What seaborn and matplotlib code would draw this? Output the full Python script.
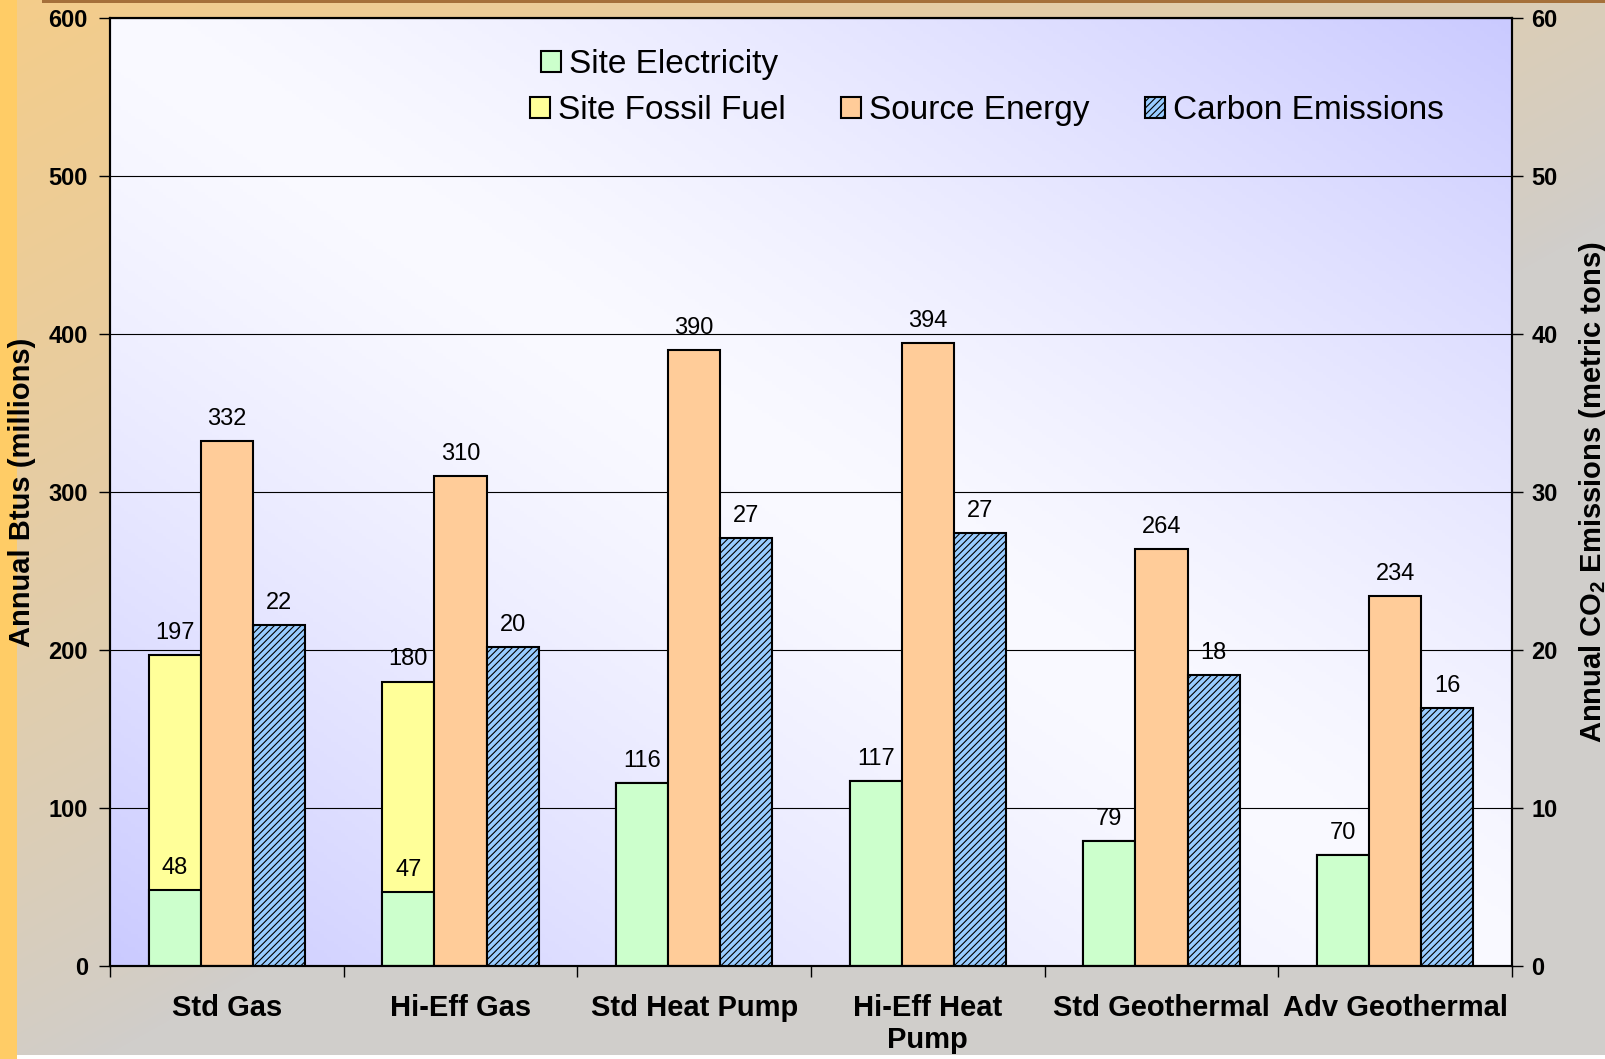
import numpy as np
import pandas as pd
import matplotlib
matplotlib.use("Agg")
import matplotlib.pyplot as plt
import seaborn as sns
from matplotlib.patches import Patch
from matplotlib.ticker import FixedLocator

# data
categories = ["Std Gas", "Hi-Eff Gas", "Std Heat Pump", "Hi-Eff Heat\nPump",
              "Std Geothermal", "Adv Geothermal"]
site_electricity = [48, 47, 116, 117, 79, 70]
site_fossil = [149, 133, 0, 0, 0, 0]
source_energy = [332, 310, 390, 394, 264, 234]
carbon = [21.6, 20.2, 27.1, 27.4, 18.4, 16.3]
btu_ticks = [0, 100, 200, 300, 400, 500, 600]
co2_ticks = [0, 10, 20, 30, 40, 50, 60]

slots = ["Site", "Source", "Carbon"]
GREEN, YELLOW, ORANGE, BLUE = "#CCFFCC", "#FFFF99", "#FFCC99", "#99CCFF"
HATCH = "/////"

sns.set_style("white")
plt.rcParams["font.family"] = ["Liberation Sans", "DejaVu Sans"]
plt.rcParams["mathtext.default"] = "regular"
plt.rcParams["text.color"] = "black"
plt.rcParams["axes.labelcolor"] = "black"
plt.rcParams["xtick.color"] = "black"
plt.rcParams["ytick.color"] = "black"
plt.rcParams["hatch.linewidth"] = 0.8

W, H = 1606, 1059
fig = plt.figure(figsize=(W / 100, H / 100), dpi=100)

# outer slide background: tan in the top-left fading to grey
bg = fig.add_axes([0, 0, 1, 1], zorder=-10)
X, Y = np.meshgrid(np.linspace(0, 1, W), np.linspace(0, 1, H))
t = np.clip(1 - (0.8 * X + 0.95 * Y), 0, 1) ** 0.8
tan = np.array([244, 204, 138]) / 255
grey = np.array([208, 206, 203]) / 255
img = grey + (tan - grey) * t[..., None]
img[:, :17] = np.array([255, 204, 102]) / 255
img[:3, 42:] = np.array([165, 112, 58]) / 255
img[1055:, 17:] = 1.0
bg.imshow(img, aspect="auto", extent=(0, 1, 0, 1), origin="upper")
bg.set_axis_off()

# plot area
pos = [110 / W, 1 - 966 / H, 1402 / W, 948 / H]
grad = fig.add_axes(pos, zorder=-5)
u, v = np.meshgrid(np.linspace(0, 1, 400), np.linspace(0, 1, 300))
f = np.abs(u + v - 1) ** 1.3
white = np.array([250, 250, 255]) / 255
lav = np.array([202, 202, 255]) / 255
grad.imshow(white + (lav - white) * f[..., None], aspect="auto",
            extent=(0, 1, 0, 1), origin="lower")
grad.set_axis_off()

ax = fig.add_axes(pos)
ax.set_facecolor("none")


def bars(axis, values, slot, color, labels=None, **kw):
    before = set(axis.patches)
    df = pd.DataFrame({"cat": categories, "val": values, "slot": slot})
    sns.barplot(data=df, x="cat", y="val", hue="slot", hue_order=slots,
                order=categories, palette={s: color for s in slots},
                dodge=True, width=0.67, gap=0, saturation=1,
                edgecolor="black", linewidth=1.5, errorbar=None,
                legend=False, ax=axis, **kw)
    if labels is None:
        return
    for p in axis.patches:
        if p in before:
            continue
        cx = p.get_x() + p.get_width() / 2
        i = int(round(cx))
        if labels[i]:
            axis.annotate(labels[i], (cx, p.get_height()), xytext=(0, 8),
                          textcoords="offset points", ha="center", va="bottom",
                          fontsize=17)


site_total = [e + f_ for e, f_ in zip(site_electricity, site_fossil)]
bars(ax, site_total, "Site", YELLOW,
     [f"{v}" if f_ else "" for v, f_ in zip(site_total, site_fossil)])
bars(ax, site_electricity, "Site", GREEN, [f"{v}" for v in site_electricity])
bars(ax, source_energy, "Source", ORANGE, [f"{v}" for v in source_energy])

ax2 = ax.twinx()
bars(ax2, carbon, "Carbon", BLUE, [f"{v:.0f}" for v in carbon], hatch=HATCH)

ax.set_xlim(-0.5, 5.5)
ax.set_ylim(0, 600)
ax2.set_ylim(0, 60)
ax.set_axisbelow(True)
ax.yaxis.grid(True, color="black", linewidth=0.8)
ax.xaxis.grid(False)
ax2.grid(False)

ax.set_yticks(btu_ticks)
ax.set_yticklabels([str(v) for v in btu_ticks], fontsize=17, fontweight="bold")
ax2.set_yticks(co2_ticks)
ax2.set_yticklabels([str(v) for v in co2_ticks], fontsize=17, fontweight="bold")
ax.set_xticks(range(len(categories)))
ax.set_xticklabels(categories, fontsize=21, fontweight="bold")
ax.xaxis.set_minor_locator(FixedLocator(np.arange(-0.5, len(categories), 1)))

ax.tick_params(axis="x", which="major", length=0, pad=20)
ax.tick_params(axis="x", which="minor", bottom=True, length=8, width=1, direction="out")
ax.tick_params(axis="y", left=True, length=8, width=1, pad=8, direction="out")
ax2.tick_params(axis="y", right=True, length=8, width=1, pad=6, direction="out")

ax.set_xlabel("")
ax.set_ylabel("Annual Btus (millions)", fontsize=21, fontweight="bold")
ax.yaxis.set_label_coords(-0.0528, 0.5)
ax2.set_ylabel("Annual CO$_2$ Emissions (metric tons)", fontsize=21, fontweight="bold")
ax2.yaxis.set_label_coords(1.0464, 0.5)

for a in (ax, ax2):
    for s in a.spines.values():
        s.set_color("black")
        s.set_linewidth(1.5)

leg_kw = dict(loc="upper left", frameon=False, fontsize=24,
              handlelength=0.6, handleheight=0.6, handletextpad=0.25,
              columnspacing=1.65, borderpad=0, borderaxespad=0)
fig.legend([Patch(facecolor=GREEN, edgecolor="black", linewidth=1.5)],
           ["Site Electricity"], bbox_to_anchor=(541 / W, 1 - 49 / H), **leg_kw)
fig.legend([Patch(facecolor=YELLOW, edgecolor="black", linewidth=1.5),
            Patch(facecolor=ORANGE, edgecolor="black", linewidth=1.5),
            Patch(facecolor=BLUE, edgecolor="black", linewidth=1.5, hatch=HATCH)],
           ["Site Fossil Fuel", "Source Energy", "Carbon Emissions"], ncol=3,
           bbox_to_anchor=(530 / W, 1 - 95 / H), **leg_kw)

fig.savefig("out.png", dpi=100)
